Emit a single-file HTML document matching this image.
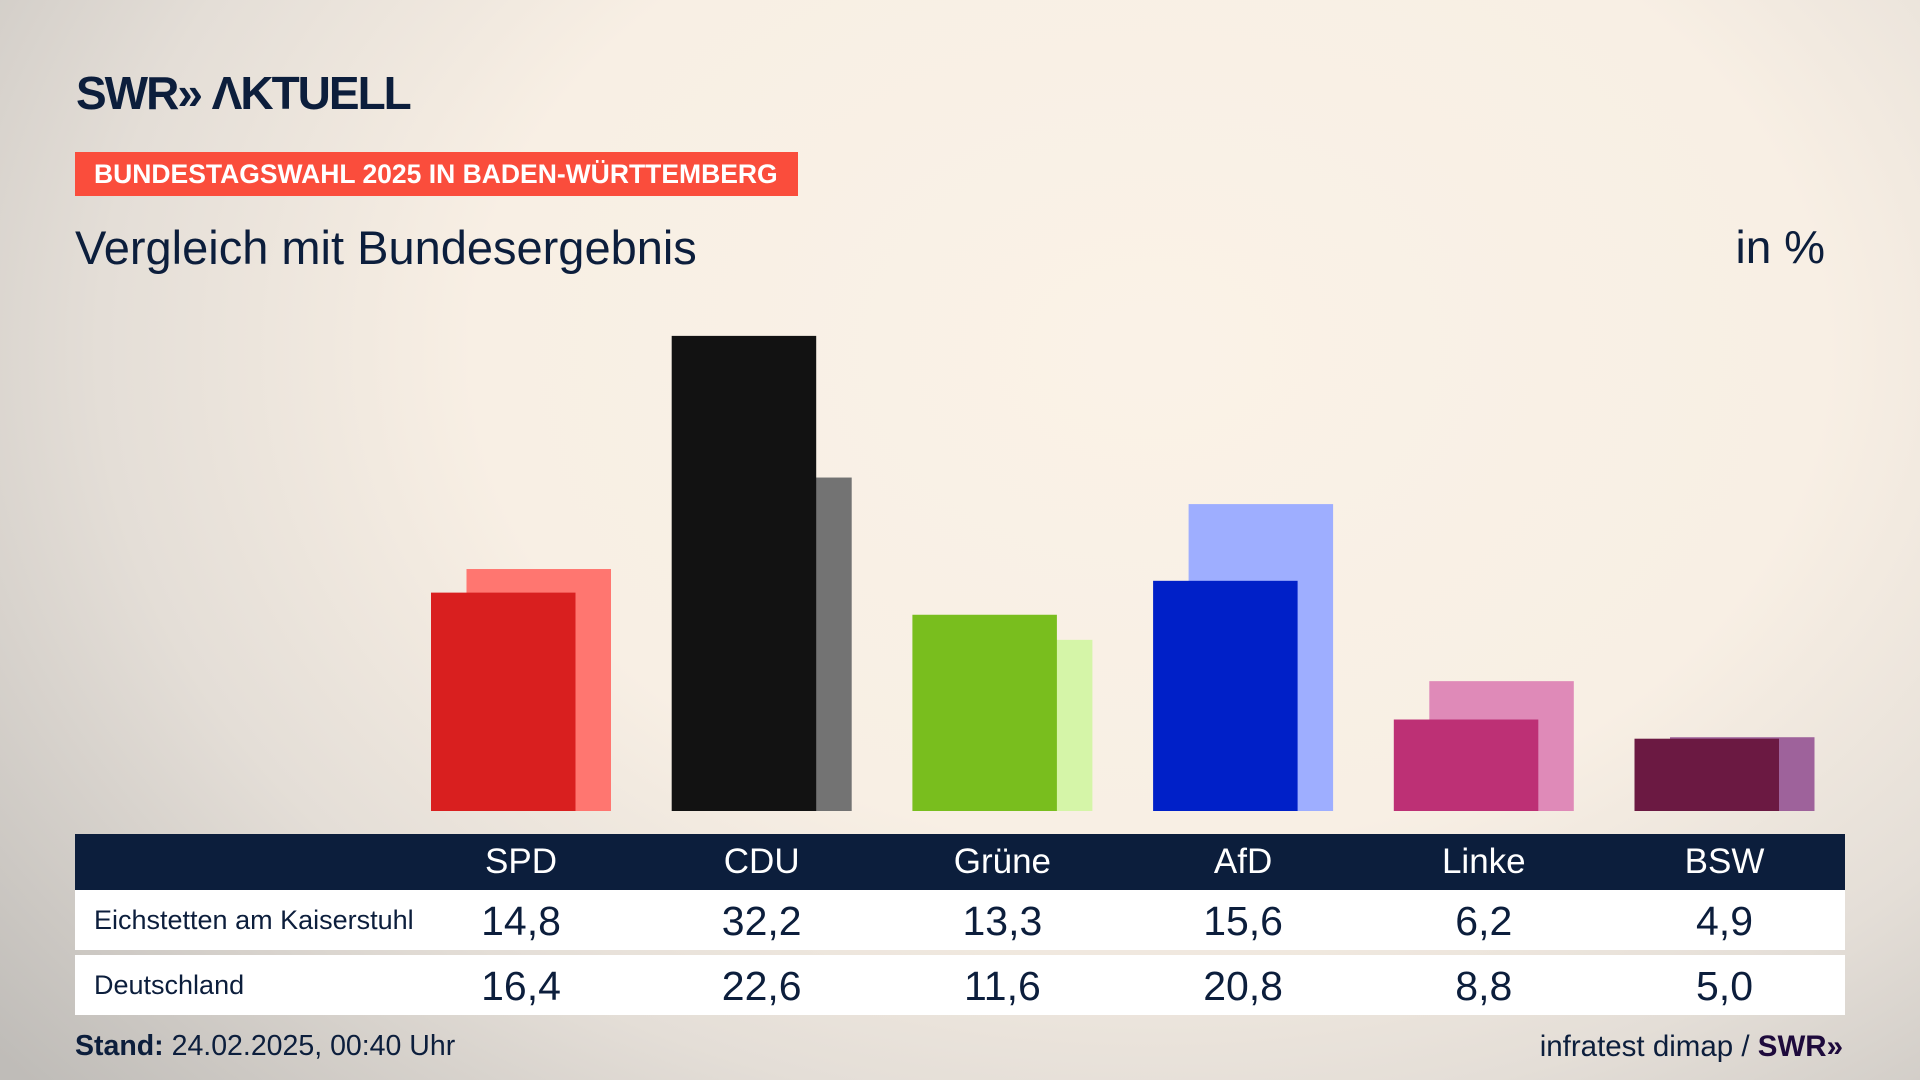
<!DOCTYPE html>
<html><head><meta charset="utf-8">
<style>
html,body{margin:0;padding:0}
body{width:1920px;height:1080px;position:relative;overflow:hidden;font-family:"Liberation Sans",sans-serif;color:#0c1e3c;
background:radial-gradient(ellipse 1500px 1100px at 1150px 350px,#faf2e7 0%,#f8efe4 45%,#e4ded7 70%,#bfbcb8 100%);}
.abs{position:absolute}
#logo{left:76px;top:66px;font-size:46px;font-weight:bold;letter-spacing:-2px;color:#0c1e3c;white-space:nowrap}
#banner{left:75px;top:152px;width:723px;height:44px;background:#fa4d3c;color:#fff;font-weight:bold;font-size:26.5px;line-height:44px;padding-left:19px;box-sizing:border-box;white-space:nowrap}
#title{left:75px;top:220px;font-size:47px;white-space:nowrap}
#unit{right:95px;top:220px;font-size:46px}
#hdr{left:75px;top:834px;width:1770px;height:56px;background:#0c1e3c}
.row{left:75px;width:1770px;background:#fff}
.lbl{font-size:27px;left:19px;position:absolute}
.cell{position:absolute;transform:translateX(-50%);white-space:nowrap}
.h{color:#fff;font-size:35px;top:8px}
.v{font-size:41px}
#stand{left:75px;top:1030px;font-size:28.5px}
#src{right:77px;top:1030px;font-size:29.5px}
</style></head><body>
<div id="logo" class="abs">SWR» ΛKTUELL</div>
<div id="banner" class="abs">BUNDESTAGSWAHL 2025 IN BADEN-WÜRTTEMBERG</div>
<div id="title" class="abs">Vergleich mit Bundesergebnis</div>
<div id="unit" class="abs">in %</div>
<svg id="chart" class="abs" style="left:0;top:0" width="1920" height="830"></svg>
<div id="hdr" class="abs"></div>
<div id="row1" class="abs row" style="top:890px;height:60px"><span class="lbl" style="top:15px">Eichstetten am Kaiserstuhl</span></div>
<div id="row2" class="abs row" style="top:955px;height:60px"><span class="lbl" style="top:15px">Deutschland</span></div>
<div id="stand" class="abs"><b>Stand:</b> 24.02.2025, 00:40 Uhr</div>
<div id="src" class="abs">infratest dimap / <b style="color:#1e0a3c">SWR»</b></div>
<script>
const parties=["SPD","CDU","Grüne","AfD","Linke","BSW"];
const localVals=[14.8,32.2,13.3,15.6,6.2,4.9];
const nationalVals=[16.4,22.6,11.6,20.8,8.8,5.0];
const localLabels=["14,8","32,2","13,3","15,6","6,2","4,9"];
const nationalLabels=["16,4","22,6","11,6","20,8","8,8","5,0"];
const localColors=["#d91f1f","#121212","#79be1e","#0020c8","#bd3075","#6b1942"];
const nationalColors=["#ff7670","#737373","#d5f5a8","#9eaeff","#df8ab8","#9e629b"];
const NS="http://www.w3.org/2000/svg";
const baseY=811, pxPerUnit=12.05*1.2245, x0=431, step=240.7, bw=144.5, off=35.5;
function y(v){return baseY-v*pxPerUnit;}
function x(i){return x0+i*step;}
const svg=document.getElementById('chart');
parties.forEach((p,i)=>{
  const r2=document.createElementNS(NS,'rect');
  r2.setAttribute('x',x(i)+off);r2.setAttribute('y',y(nationalVals[i]));
  r2.setAttribute('width',bw);r2.setAttribute('height',baseY-y(nationalVals[i]));
  r2.setAttribute('fill',nationalColors[i]);
  
  
  svg.appendChild(r2);
  const r1=document.createElementNS(NS,'rect');
  r1.setAttribute('x',x(i));r1.setAttribute('y',y(localVals[i]));
  r1.setAttribute('width',bw);r1.setAttribute('height',baseY-y(localVals[i]));
  r1.setAttribute('fill',localColors[i]);
  
  
  svg.appendChild(r1);
  const cx=x(i)+(bw+off)/2-75;
  const h=document.createElement('span');h.className='cell h';h.style.left=cx+'px';h.textContent=p;
  
  
  document.getElementById('hdr').appendChild(h);
  const a=document.createElement('span');a.className='cell v';a.style.left=cx+'px';a.style.top='8px';a.textContent=localLabels[i];
  
  
  document.getElementById('row1').appendChild(a);
  const b=document.createElement('span');b.className='cell v';b.style.left=cx+'px';b.style.top='8px';b.textContent=nationalLabels[i];
  
  
  document.getElementById('row2').appendChild(b);
});
</script>
</body></html>
